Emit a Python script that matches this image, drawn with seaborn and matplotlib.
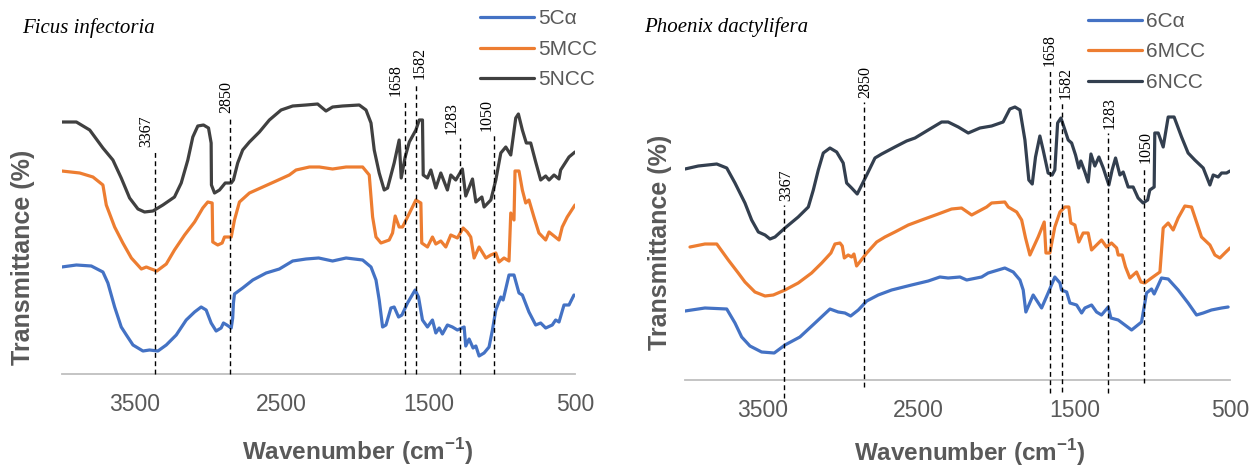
import matplotlib
matplotlib.use("Agg")
import matplotlib.pyplot as plt
import pandas as pd
import seaborn as sns

# ---------------- Ficus infectoria ----------------
fi_ca_wn = [4000, 3900, 3798, 3719, 3685, 3639, 3594, 3559, 3514, 3446, 3401, 3344, 3287, 3219,
            3151, 3094, 3049, 3015, 2981, 2947, 2913, 2897, 2874, 2844, 2834, 2829, 2822, 2766,
            2697, 2606, 2516, 2425, 2334, 2248, 2153, 2061, 1948, 1891, 1857, 1835, 1812, 1789,
            1755, 1733, 1703, 1680, 1642, 1590, 1567, 1540, 1506, 1472, 1449, 1426, 1404, 1370,
            1336, 1302, 1256, 1245, 1222, 1195, 1176, 1154, 1120, 1086, 1063, 1040, 1006, 990,
            950, 916, 882, 859, 814, 768, 734, 700, 655, 632, 609, 575, 541, 507]
fi_ca_t = [107, 109, 108, 102, 91, 67, 47, 39, 29, 23, 24, 23, 29, 39,
           54, 62, 67, 64, 51, 43, 46, 51, 49, 46, 56, 71, 80, 86,
           94, 101, 105, 113, 115, 116, 113, 116, 114, 107, 94, 74, 47, 49,
           66, 67, 57, 59, 71, 84, 77, 54, 47, 54, 41, 46, 40, 49,
           47, 44, 47, 28, 35, 26, 28, 18, 21, 27, 44, 64, 77, 74,
           99, 99, 81, 79, 62, 49, 51, 46, 49, 54, 52, 69, 69, 79]

fi_mcc_wn = [4000, 3877, 3787, 3719, 3696, 3639, 3583, 3525, 3457, 3423, 3389, 3351, 3287, 3231,
             3162, 3094, 3038, 3004, 2974, 2970, 2936, 2906, 2890, 2844, 2822, 2788, 2720, 2629,
             2538, 2448, 2402, 2311, 2243, 2153, 2061, 1948, 1903, 1880, 1857, 1823, 1767, 1744,
             1726, 1699, 1676, 1642, 1585, 1551, 1545, 1506, 1472, 1449, 1415, 1381, 1347, 1302,
             1263, 1234, 1211, 1188, 1154, 1108, 1074, 1040, 1018, 984, 950, 938, 916, 909,
             882, 859, 836, 814, 780, 746, 700, 677, 609, 587, 553, 500]
fi_mcc_t = [203, 201, 197, 189, 169, 147, 131, 116, 105, 107, 105, 103, 110, 124,
            139, 152, 166, 172, 171, 132, 129, 131, 137, 137, 154, 172, 181, 187,
            193, 199, 204, 207, 207, 205, 207, 207, 199, 157, 137, 131, 134, 141,
            158, 147, 147, 157, 174, 171, 131, 127, 137, 130, 133, 127, 139, 136,
            146, 142, 137, 116, 127, 116, 119, 121, 112, 116, 113, 161, 154, 203,
            203, 184, 171, 174, 157, 141, 134, 142, 134, 147, 157, 169]

fi_ncc_wn = [4000, 3900, 3809, 3719, 3651, 3594, 3537, 3480, 3435, 3378, 3310, 3231, 3185, 3140,
             3106, 3072, 3033, 2999, 2981, 2979, 2958, 2924, 2885, 2844, 2829, 2800, 2766, 2720,
             2652, 2584, 2504, 2425, 2334, 2255, 2198, 2153, 2085, 1971, 1925, 1891, 1869, 1835,
             1801, 1778, 1733, 1699, 1685, 1658, 1630, 1585, 1562, 1540, 1535, 1506, 1483, 1449,
             1415, 1370, 1347, 1313, 1268, 1245, 1199, 1176, 1135, 1120, 1074, 1040, 1006, 972,
             938, 904, 886, 859, 832, 802, 768, 734, 700, 677, 643, 609, 598, 541, 500]
fi_ncc_t = [252, 252, 244, 226, 214, 196, 176, 165, 162, 163, 169, 177, 191, 214,
            237, 248, 249, 246, 231, 189, 181, 184, 191, 191, 194, 211, 224, 232,
            242, 254, 264, 268, 269, 270, 263, 267, 268, 269, 264, 251, 224, 201,
            184, 186, 211, 234, 196, 217, 232, 244, 254, 254, 199, 196, 204, 186,
            201, 184, 199, 194, 205, 178, 195, 172, 177, 167, 174, 194, 221, 227,
            219, 256, 260, 244, 231, 231, 212, 194, 198, 194, 199, 195, 204, 217, 222]

# ---------------- Phoenix dactylifera ----------------
pd_ca_wn = [4000, 3872, 3732, 3679, 3636, 3583, 3508, 3427, 3358, 3262, 3165, 3069, 3016, 2973,
            2936, 2887, 2833, 2759, 2673, 2545, 2438, 2363, 2310, 2234, 2191, 2095, 2053, 1946,
            1892, 1849, 1828, 1811, 1764, 1710, 1668, 1625, 1592, 1582, 1549, 1528, 1485, 1453,
            1432, 1389, 1357, 1325, 1282, 1265, 1218, 1132, 1068, 1036, 1004, 987, 940, 897,
            833, 769, 715, 672, 619, 554, 512]
pd_ca_t = [69, 72, 71, 57, 43, 34, 28, 27, 35, 43, 57, 71, 68, 67,
           64, 70, 79, 85, 90, 95, 99, 103, 102, 103, 100, 103, 107, 112,
           108, 100, 90, 68, 85, 72, 87, 103, 97, 90, 88, 77, 75, 67,
           72, 75, 68, 65, 73, 62, 60, 50, 58, 87, 91, 86, 102, 101,
           90, 77, 65, 67, 70, 72, 73]

pd_mcc_wn = [3968, 3872, 3796, 3722, 3658, 3615, 3551, 3486, 3433, 3358, 3273, 3187, 3122, 3063,
             3037, 3005, 2990, 2977, 2952, 2930, 2915, 2898, 2833, 2769, 2716, 2652, 2566, 2480,
             2374, 2288, 2224, 2159, 2063, 2031, 1946, 1924, 1870, 1838, 1813, 1785, 1732, 1693,
             1682, 1657, 1625, 1592, 1560, 1535, 1522, 1496, 1471, 1443, 1411, 1389, 1357, 1325,
             1293, 1261, 1228, 1218, 1192, 1171, 1143, 1100, 1072, 1047, 1004, 950, 929, 897,
             865, 833, 790, 747, 715, 683, 629, 597, 565, 533, 500]
pd_mcc_t = [133, 136, 136, 120, 107, 98, 88, 84, 85, 90, 97, 107, 117, 127,
            136, 137, 134, 122, 125, 123, 126, 114, 127, 138, 143, 148, 155, 160,
            166, 171, 172, 165, 173, 177, 178, 173, 168, 160, 142, 125, 143, 158,
            127, 127, 153, 168, 173, 173, 157, 155, 138, 147, 147, 130, 135, 140,
            133, 137, 132, 125, 125, 113, 102, 108, 98, 97, 102, 108, 152, 157,
            150, 162, 174, 173, 158, 143, 135, 125, 122, 127, 132]

pd_ncc_wn = [4000, 3915, 3796, 3732, 3679, 3615, 3572, 3529, 3486, 3454, 3422, 3358, 3273, 3208,
             3176, 3144, 3112, 3069, 3026, 2984, 2962, 2930, 2894, 2833, 2780, 2737, 2652, 2577,
             2523, 2438, 2352, 2310, 2245, 2181, 2106, 2031, 1957, 1914, 1881, 1849, 1817, 1792,
             1770, 1749, 1721, 1700, 1668, 1642, 1625, 1607, 1586, 1560, 1539, 1517, 1492, 1471,
             1458, 1432, 1411, 1393, 1368, 1342, 1314, 1278, 1257, 1235, 1207, 1186, 1154, 1122,
             1090, 1058, 1029, 1015, 987, 983, 961, 929, 897, 859, 811, 769, 726, 672,
             629, 608, 576, 554, 522, 500]
pd_ncc_t = [211, 214, 216, 212, 197, 177, 160, 148, 145, 141, 143, 152, 163, 173,
            190, 210, 227, 232, 228, 217, 197, 192, 186, 205, 222, 226, 233, 239,
            242, 250, 258, 258, 253, 247, 252, 254, 258, 271, 273, 270, 240, 200,
            196, 223, 244, 230, 207, 205, 210, 257, 262, 250, 240, 237, 225, 212,
            219, 208, 198, 226, 214, 223, 212, 195, 210, 222, 205, 208, 193, 193,
            182, 177, 180, 190, 193, 247, 247, 233, 263, 263, 243, 227, 220, 212,
            195, 205, 203, 207, 207, 209]

tick_values = [3500, 2500, 1500, 500]
band_values = [3367, 2850, 1658, 1582, 1283, 1050]
band_labels = ["3367", "2850", "1658", "1582", "1283", "1050"]

# ---------------- styling / layout ----------------
W, H = 1253, 467
GRAY = "#595959"
AXIS_GRAY = "#BFBFBF"

sns.set_theme(style="white")
plt.rcParams["font.family"] = ["Liberation Sans", "DejaVu Sans"]
plt.rcParams["mathtext.fontset"] = "custom"
plt.rcParams["mathtext.rm"] = "Liberation Sans"
plt.rcParams["mathtext.bf"] = "Liberation Sans:bold"

fig = plt.figure(figsize=(W / 100, H / 100), dpi=100)


def px_box(x0, x1, ytop, ybot):
    return [x0 / W, 1 - ybot / H, (x1 - x0) / W, (ybot - ytop) / H]


def draw_panel(ax, series, colors, ymax, band_tops, band_bottoms, label_dx,
               legend_xy, xlabel_xy, ylabel_xy):
    frames = [pd.DataFrame({"Wavenumber": wn, "Transmittance": t, "Sample": name})
              for name, wn, t in series]
    df = pd.concat(frames, ignore_index=True)
    sns.lineplot(data=df, x="Wavenumber", y="Transmittance", hue="Sample",
                 palette=colors, sort=False, estimator=None, linewidth=2.3, ax=ax)

    ax.set_xlim(4000, 500)
    ax.set_ylim(0, ymax)
    ax.set_xticks(tick_values)
    ax.set_xticklabels([str(v) for v in tick_values])
    ax.set_yticks([])
    for side in ("top", "right", "left"):
        ax.spines[side].set_visible(False)
    ax.spines["bottom"].set_color(AXIS_GRAY)
    ax.spines["bottom"].set_linewidth(1.3)
    ax.tick_params(axis="x", length=0, pad=13.5, labelsize=16.5, labelcolor=GRAY)

    # marked absorption bands
    for b, lbl, top, bot, dx in zip(band_values, band_labels, band_tops, band_bottoms, label_dx):
        ax.plot([b, b], [bot, top], color="black", linewidth=1.0,
                linestyle=(0, (3.5, 2.5)), clip_on=False, zorder=5)
        ax.annotate(lbl, xy=(b, top), xytext=(dx, 3), textcoords="offset points",
                    rotation=90, ha="center", va="bottom", fontsize=11.5,
                    family=["Liberation Serif", "DejaVu Serif"], color="black")

    ax.set_xlabel(r"Wavenumber (cm$^{\mathbf{-1}}$)", fontsize=17.5, fontweight="bold", color=GRAY)
    ax.xaxis.set_label_coords(*xlabel_xy)
    ax.set_ylabel("Transmittance (%)", fontsize=18, fontweight="bold", color=GRAY,
                  rotation=90, rotation_mode="default", ha="center", va="center")
    ax.yaxis.set_label_coords(*ylabel_xy)

    handles, labels = ax.get_legend_handles_labels()
    ax.legend(handles, labels, loc="upper left",
              bbox_to_anchor=(legend_xy[0] / W, 1 - legend_xy[1] / H),
              bbox_transform=fig.transFigure, frameon=False, fontsize=15,
              handlelength=2.6, handletextpad=0.2, labelspacing=0.55,
              borderpad=0, borderaxespad=0, labelcolor=GRAY)


# left panel
ax1 = fig.add_axes(px_box(61.7, 575, 40, 374))
draw_panel(
    ax1,
    [("5C\u03b1", fi_ca_wn, fi_ca_t), ("5MCC", fi_mcc_wn, fi_mcc_t), ("5NCC", fi_ncc_wn, fi_ncc_t)],
    ["#4472C4", "#ED7D31", "#404040"],
    334,
    band_tops=[223, 257, 274, 291, 236, 239],
    band_bottoms=[0, 0, 0, 0, 0, 0],
    label_dx=[-5.8, -2.9, -7.2, 2.2, -5.8, -5.8],
    legend_xy=(480, 9.5),
    xlabel_xy=((358 - 61.7) / 513.3, (374 - 436) / 334),
    ylabel_xy=((23 - 61.7) / 513.3, (374 - 257) / 334),
)
fig.text(22 / W, 1 - 33 / H, "Ficus infectoria", fontsize=15, style="italic",
         family=["Liberation Serif", "DejaVu Serif"], ha="left", va="baseline", color="black")

# right panel
ax2 = fig.add_axes(px_box(685, 1230, 40, 380))
draw_panel(
    ax2,
    [("6C\u03b1", pd_ca_wn, pd_ca_t), ("6MCC", pd_mcc_wn, pd_mcc_t), ("6NCC", pd_ncc_wn, pd_ncc_t)],
    ["#4472C4", "#ED7D31", "#333F4F"],
    340,
    band_tops=[175, 278, 310, 277, 247, 213],
    band_bottoms=[-18, -7, -13, -12, -13, -3],
    label_dx=[2.2, 1.1, 0, 2.9, 1.4, 0.7],
    legend_xy=(1088, 12),
    xlabel_xy=((970 - 685) / 545, (380 - 437) / 340),
    ylabel_xy=((660 - 685) / 545, (380 - 242) / 340),
)
fig.text(644 / W, 1 - 32 / H, "Phoenix dactylifera", fontsize=15, style="italic",
         family=["Liberation Serif", "DejaVu Serif"], ha="left", va="baseline", color="black")

fig.savefig("out.png", dpi=100)
